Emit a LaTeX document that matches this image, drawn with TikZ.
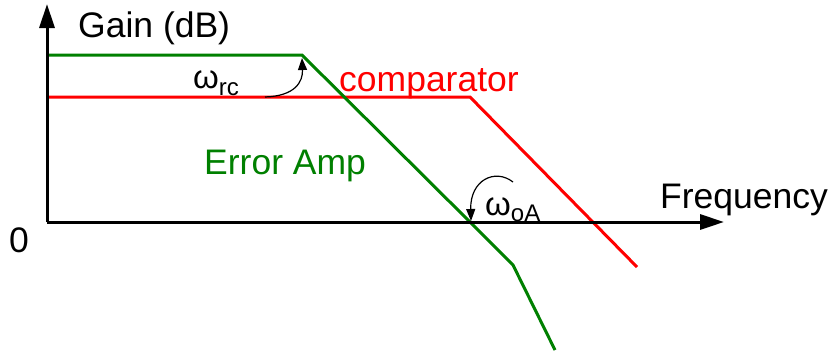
\documentclass[tikz,border=0pt]{standalone}
\usepackage{fontspec}
\setmainfont{Liberation Sans}
\usetikzlibrary{arrows.meta}
\definecolor{ggreen}{RGB}{0,128,0}
\definecolor{rred}{RGB}{255,0,0}
\newcommand{\wsub}[2]{{\fontsize{33}{40}\selectfont ω}\raisebox{-#2pt}{\fontsize{24}{28}\selectfont #1}}
\tikzset{
  axis/.style={line width=3pt,-{Triangle[length=24pt,width=15pt]}},
  curve/.style={line width=3pt,line join=miter},
  lbl/.style={inner sep=0pt,anchor=base west,font=\fontsize{35.5}{42}\selectfont},
  angarrow/.style={line width=1.2pt,-{Triangle[length=12pt,width=9pt]}}
}
\begin{document}
\begin{tikzpicture}[x=1pt,y=-1pt]
\useasboundingbox (0,0) rectangle (833,354);
% origin and axis ends
\coordinate (o) at (47,222);
\coordinate (ytop) at (47,4);
\coordinate (xend) at (724,222);
% green (error amp) corners
\coordinate (g0) at (47,55);
\coordinate (g1) at (302,55);
\coordinate (g2) at (470,222);
\coordinate (g3) at (513,265);
\coordinate (g4) at (555,350);
% red (comparator) corners
\coordinate (r0) at (47,97);
\coordinate (r1) at (470,97);
\coordinate (r2) at (637,267);
\draw[curve,rred] (r0) -- (r1) -- (r2);
\draw[curve,ggreen] (g0) -- (g1) -- (g2) -- (g3) -- (g4);
\draw[axis] (o) -- (ytop);
\draw[axis] (o) -- (xend);
% labels
\node[lbl] (gain) at (78,37) {Gain (dB)};
\node[lbl] (freq) at (660,208) {Frequency};
\node[lbl] (zero) at (9,252) {0};
\node[lbl,text=rred] (comp) at (339,91) {comparator};
\node[lbl,text=ggreen] (ea) at (204,174) {Error Amp};
\node[lbl] (wrc) at (193,88) {\wsub{rc}{7}};
\node[lbl] (woa) at (485,215) {\wsub{oA}{6}};
% angle arrows
\coordinate (arcS) at (265,97);
\coordinate (arcE) at (302,58);
\draw[angarrow] (arcS) .. controls (295,96) and (303,82) .. (arcE);
\coordinate (arc2S) at (513,182);
\coordinate (arc2E) at (471,221);
\draw[angarrow] (arc2S) .. controls (495,168) and (470,180) .. (arc2E);
\end{tikzpicture}
\end{document}
